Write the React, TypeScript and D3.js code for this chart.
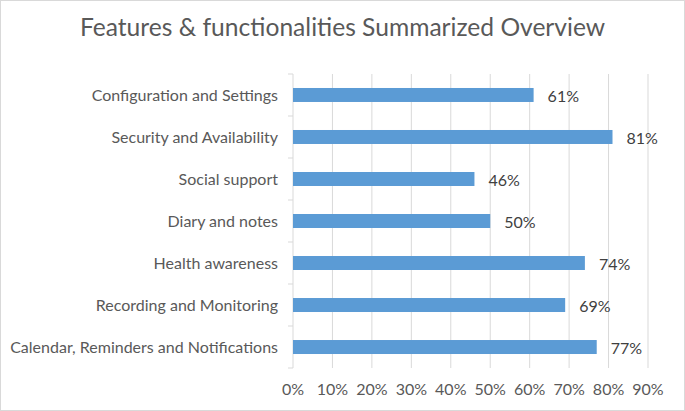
import React, { useEffect, useRef } from 'react';
import * as d3 from 'd3';

const categories = [
    'Configuration and Settings',
    'Security and Availability',
    'Social support',
    'Diary and notes',
    'Health awareness',
    'Recording and Monitoring',
    'Calendar, Reminders and Notifications',
];
const values = [0.61, 0.81, 0.46, 0.5, 0.74, 0.69, 0.77];
const xTicks = [0, 0.1, 0.2, 0.3, 0.4, 0.5, 0.6, 0.7, 0.8, 0.9];
const title = 'Features & functionalities Summarized Overview';

const W = 685;
const H = 411;
const FONT = 'Lato, "Open Sans", sans-serif';

export default function App() {
    const svgRef = useRef<SVGSVGElement>(null);

    useEffect(() => {
        if (!svgRef.current) return;
        const svg = d3.select(svgRef.current);
        svg.selectAll('*').remove();

        const margin = { top: 74, right: 37, bottom: 43, left: 293 };
        const width = W - margin.left - margin.right;
        const height = H - margin.top - margin.bottom;

        svg.append('rect')
            .attr('x', 0.5).attr('y', 0.5)
            .attr('width', W - 1).attr('height', H - 1)
            .attr('fill', '#fff')
            .attr('stroke', '#d9d9d9');

        svg.append('text')
            .attr('x', W / 2)
            .attr('y', 36)
            .attr('text-anchor', 'middle')
            .attr('fill', '#595959')
            .style('font-family', FONT)
            .style('font-size', '24.6px')
            .text(title);

        const g = svg.append('g').attr('transform', `translate(${margin.left},${margin.top})`);

        const x = d3.scaleLinear().domain([0, 0.9]).range([0, width]);
        const y = d3.scaleBand().domain(categories).range([0, height]).paddingInner(0.667).paddingOuter(0.333);

        // gridlines
        g.selectAll('line.grid')
            .data(xTicks.slice(1))
            .enter().append('line')
            .attr('class', 'grid')
            .attr('x1', d => x(d)).attr('x2', d => x(d))
            .attr('y1', 0).attr('y2', height)
            .attr('stroke', '#d9d9d9')
            .attr('stroke-width', 1);

        // category axis line with outer ticks
        g.append('line')
            .attr('x1', 0).attr('x2', 0)
            .attr('y1', 0).attr('y2', height)
            .attr('stroke', '#d9d9d9');
        const step = height / categories.length;
        g.selectAll('line.ctick')
            .data(d3.range(categories.length + 1))
            .enter().append('line')
            .attr('class', 'ctick')
            .attr('x1', -5).attr('x2', 0)
            .attr('y1', d => d * step).attr('y2', d => d * step)
            .attr('stroke', '#d9d9d9');

        g.selectAll('rect.bar')
            .data(values)
            .enter().append('rect')
            .attr('class', 'bar')
            .attr('x', 0)
            .attr('y', (_, i) => y(categories[i])!)
            .attr('width', d => x(d))
            .attr('height', y.bandwidth())
            .attr('fill', '#5b9bd5');

        g.selectAll('text.val')
            .data(values)
            .enter().append('text')
            .attr('class', 'val')
            .attr('x', d => x(d) + 14)
            .attr('y', (_, i) => y(categories[i])! + y.bandwidth() / 2 + 1)
            .attr('dy', '0.35em')
            .attr('fill', '#404040')
            .style('font-family', FONT)
            .style('font-size', '16px')
            .text(d => `${Math.round(d * 100)}%`);

        g.selectAll('text.cat')
            .data(categories)
            .enter().append('text')
            .attr('class', 'cat')
            .attr('x', -15)
            .attr('y', d => y(d)! + y.bandwidth() / 2)
            .attr('dy', '0.35em')
            .attr('text-anchor', 'end')
            .attr('fill', '#595959')
            .style('font-family', FONT)
            .style('font-size', '16px')
            .text(d => d);

        g.selectAll('text.xt')
            .data(xTicks)
            .enter().append('text')
            .attr('class', 'xt')
            .attr('x', d => x(d))
            .attr('y', height + 21)
            .attr('dy', '0.35em')
            .attr('text-anchor', 'middle')
            .attr('fill', '#595959')
            .style('font-family', FONT)
            .style('font-size', '16px')
            .text(d => `${Math.round(d * 100)}%`);
    }, []);

    return (
        <div style={{ position: 'absolute', left: 0, top: 0 }}>
            <svg ref={svgRef} width={W} height={H} style={{ display: 'block' }} />
        </div>
    );
}
